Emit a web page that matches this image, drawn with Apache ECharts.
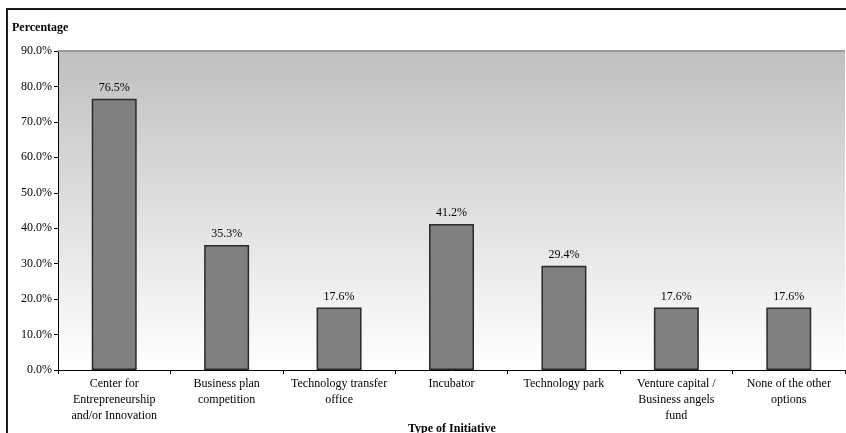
<!DOCTYPE html>
<html>
<head>
<meta charset="utf-8">
<script src="https://cdn.jsdelivr.net/npm/echarts@6/dist/echarts.min.js"></script>
<style>
  html, body { margin: 0; padding: 0; background: #fff; }
  #chart { width: 846px; height: 433px; }
</style>
</head>
<body>
<div id="chart"></div>
<script>
var categories = [
    'Center for\nEntrepreneurship\nand/or Innovation',
    'Business plan\ncompetition',
    'Technology transfer\noffice',
    'Incubator',
    'Technology park',
    'Venture capital /\nBusiness angels\nfund',
    'None of the other\noptions'
];
var percentages = [76.5, 35.3, 17.6, 41.2, 29.4, 17.6, 17.6];

var yTicks = { min: 0, max: 90, interval: 10 };

var font = 'Liberation Serif';

var chart = echarts.init(document.getElementById('chart'));

var option = {
    animation: false,
    backgroundColor: '#fff',
    textStyle: { fontFamily: font },
    graphic: [
        // outer frame, runs off the right and bottom edges
        {
            type: 'rect',
            shape: { x: 7, y: 9, width: 900, height: 500 },
            style: { fill: null, stroke: '#1a1a1a', lineWidth: 2 },
            z: 10
        },
        {
            type: 'text',
            left: 12,
            top: 22,
            style: { text: 'Percentage', font: 'bold 12px "Liberation Serif"', fill: '#000' }
        },
        {
            type: 'text',
            left: 408,
            top: 423,
            style: { text: 'Type of Initiative', font: 'bold 12px "Liberation Serif"', fill: '#000' }
        }
    ],
    grid: {
        left: 58,
        top: 51,
        right: 1,
        bottom: 63,
        show: true,
        borderWidth: 0,
        backgroundColor: new echarts.graphic.LinearGradient(0, 0, 0, 1, [
            { offset: 0, color: '#c0c0c0' },
            { offset: 1, color: '#ffffff' }
        ])
    },
    xAxis: {
        type: 'category',
        data: categories,
        axisLine: { lineStyle: { color: '#000', width: 1 } },
        axisTick: { show: true, length: 4, lineStyle: { color: '#000' } },
        axisLabel: {
            color: '#000',
            fontFamily: font,
            fontSize: 12,
            lineHeight: 16,
            margin: 6,
            interval: 0
        }
    },
    yAxis: {
        type: 'value',
        min: yTicks.min,
        max: yTicks.max,
        interval: yTicks.interval,
        axisLine: { show: true, lineStyle: { color: '#000', width: 1 } },
        axisTick: { show: true, length: 4, lineStyle: { color: '#000' } },
        splitLine: { show: false },
        axisLabel: {
            color: '#000',
            fontFamily: font,
            fontSize: 12,
            margin: 6,
            formatter: function (v) { return v.toFixed(1) + '%'; }
        }
    },
    series: [
        {
            type: 'bar',
            data: percentages,
            barWidth: '40%',
            itemStyle: { color: '#808080', borderColor: '#2a2a2a', borderWidth: 1.5 },
            label: {
                show: true,
                position: 'top',
                distance: 5,
                color: '#000',
                fontFamily: font,
                fontSize: 12,
                formatter: function (p) { return p.value.toFixed(1) + '%'; }
            }
        },
        {
            // grey top edge of the plot area
            type: 'line',
            data: [],
            markLine: {
                silent: true,
                symbol: 'none',
                label: { show: false },
                lineStyle: { color: '#999', width: 2, type: 'solid' },
                data: [{ yAxis: yTicks.max }]
            }
        }
    ]
};

chart.setOption(option);
</script>
</body>
</html>
